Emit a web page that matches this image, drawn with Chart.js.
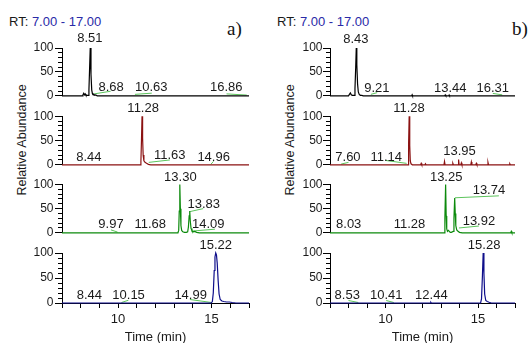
<!DOCTYPE html>
<html><head><meta charset="utf-8">
<script src="https://cdn.jsdelivr.net/npm/chart.js@4/dist/chart.umd.min.js"></script>
<style>
html,body{margin:0;padding:0;width:532px;height:343px;overflow:hidden;background:#fff;}
body{position:relative;font-family:"Liberation Sans",Arial,Helvetica,sans-serif;}
canvas{position:absolute;}
.rt{position:absolute;font-size:13px;line-height:13px;color:#1a1a1a;white-space:nowrap;}
.rt span{color:#2a2aa8;}
.pl{position:absolute;font-family:"Liberation Serif","Times New Roman",serif;font-size:19px;line-height:19px;color:#111;}
.ya{position:absolute;font-size:12.5px;line-height:13px;color:#1a1a1a;white-space:nowrap;transform:translate(-50%,-50%) rotate(-90deg);}
</style></head><body>
<div class="rt" style="left:9px;top:15px;">RT: <span>7.00 - 17.00</span></div>
<div class="rt" style="left:277px;top:15px;">RT: <span>7.00 - 17.00</span></div>
<div class="pl" style="left:227px;top:19px;">a)</div>
<div class="pl" style="left:512px;top:19px;">b)</div>
<div class="ya" style="left:22px;top:140px;">Relative Abundance</div>
<div class="ya" style="left:290px;top:140px;">Relative Abundance</div>
<script>
// ---------- DATA ----------
const xTickLabels = [10, 15];
const yTickLabels = [0, 50, 100];

// Panel a)
const a1Time  = [7, 8.08, 8.12, 8.16, 8.2, 8.24, 8.28, 8.33, 8.4, 8.44, 8.47, 8.51, 8.55, 8.59, 8.63, 8.67, 8.71, 8.75, 8.8, 8.88, 17];
const a1Abund = [0, 0, 2, 5, 2, 4, 1, 1, 1, 12, 50, 100, 45, 12, 4, 2, 3, 1, 2, 0, 0];
const a1PeakText = ['8.51', '8.68', '10.63', '16.86'];
const a1LabelX = [8.49, 9.63, 11.77, 15.78];
const a1LabelY = [112, 10, 9, 9];
const a1Leaders = [[8.72, 4, 9.6, 9.5], [10.9, 3, 11.8, 5.5], [15.8, 4, 16.88, 1.5]];

const a2Time  = [7, 11.18, 11.22, 11.25, 11.28, 11.31, 11.34, 11.38, 11.44, 11.52, 11.62, 11.75, 17];
const a2Abund = [0, 0, 8, 50, 100, 55, 20, 8, 5, 3, 1, 0, 0];
const a2PeakText = ['11.28', '8.44', '11.63', '14.96'];
const a2LabelX = [11.34, 8.44, 12.76, 15.11];
const a2LabelY = [108.5, 8, 12, 8];
const a2Leaders = [[11.64, 5, 12.77, 10], [14.96, 1, 15.1, 7]];

const a3Time  = [7, 13.2, 13.24, 13.27, 13.3, 13.33, 13.36, 13.4, 13.46, 13.55, 13.65, 13.72, 13.76, 13.8, 13.83, 13.86, 13.9, 13.95, 14.02, 14.1, 14.2, 14.35, 17];
const a3Abund = [0, 0, 5, 45, 100, 50, 15, 5, 2, 1, 1, 2, 12, 35, 45, 25, 9, 4, 2, 3, 1, 0, 0];
const a3PeakText = ['13.30', '13.83', '14.09', '9.97', '11.68'];
const a3LabelX = [13.33, 14.58, 14.82, 9.62, 11.72];
const a3LabelY = [106.5, 51, 10, 10, 10];
const a3Leaders = [[13.85, 44, 14.55, 50], [13.93, 3.5, 15.18, 7.5], [9.62, 6, 9.97, 1.5]];

const a4Time  = [7, 14.98, 15.04, 15.09, 15.14, 15.18, 15.22, 15.26, 15.3, 15.35, 15.4, 15.46, 15.55, 15.65, 15.8, 15.95, 16.1, 16.3, 17];
const a4Abund = [0, 0, 3, 20, 65, 92, 100, 96, 80, 45, 18, 7, 4, 3, 2, 2, 1, 0, 0];
const a4PeakText = ['15.22', '8.44', '10.15', '14.99'];
const a4LabelX = [15.22, 8.46, 10.56, 13.88];
const a4LabelY = [108.7, 7.5, 7.5, 7.5];
const a4Leaders = [[10.18, 1, 10.55, 5.5], [13.84, 7, 15.0, 1]];

// Panel b)
const b1Time  = [7, 8.0, 8.05, 8.1, 8.15, 8.2, 8.3, 8.35, 8.39, 8.42, 8.45, 8.49, 8.53, 8.58, 8.64, 8.72, 8.8, 11.42, 11.44, 11.46, 13.2, 13.23, 13.26, 13.42, 13.44, 13.46, 17];
const b1Abund = [0, 0, 3, 6, 2, 1, 1, 15, 60, 100, 65, 25, 8, 3, 1, 1, 0, 0, 2, 0, 0, 2, 0, 0, 1.5, 0, 0];
const b1PeakText = ['8.43', '9.21', '13.44', '16.31'];
const b1LabelX = [8.40, 9.53, 13.50, 15.80];
const b1LabelY = [110, 8, 8, 8];
const b1Leaders = [[9.21, 3, 9.55, 6.6], [15.8, 5, 16.31, 2]];

const b2Time  = [7, 11.22, 11.25, 11.28, 11.31, 11.34, 11.38, 11.45, 11.9, 11.93, 11.96, 12.13, 12.16, 12.19, 13.16, 13.19, 13.22, 13.61, 13.64, 13.67, 13.92, 13.95, 13.98, 14.07, 14.1, 14.13, 14.61, 14.64, 14.67, 14.88, 14.91, 14.94, 15.51, 15.54, 15.57, 16.69, 16.72, 16.75, 17];
const b2Abund = [0, 0, 45, 100, 40, 8, 2, 0, 0, 3, 0, 0, 2, 0, 0, 7, 0, 0, 3, 0, 0, 11, 0, 0, 4, 0, 0, 6, 0, 0, 3, 0, 0, 5, 0, 0, 2, 0, 0];
const b2PeakText = ['11.28', '7.60', '11.14', '13.95'];
const b2LabelX = [11.27, 7.97, 10.04, 14.0];
const b2LabelY = [108.5, 8, 8, 20];
const b2Leaders = [[7.6, 1.5, 8.0, 5], [10.0, 9, 11.14, 3]];

const b3Time  = [7, 13.18, 13.21, 13.25, 13.28, 13.31, 13.35, 13.4, 13.45, 13.5, 13.56, 13.66, 13.7, 13.74, 13.77, 13.8, 13.85, 13.92, 14.0, 14.15, 16.77, 16.8, 16.83, 17];
const b3Abund = [0, 0, 30, 100, 35, 8, 3, 5, 3, 1, 1, 3, 30, 72, 40, 15, 6, 3, 1, 0, 0, 3, 0, 0];
const b3PeakText = ['13.25', '13.74', '13.92', '8.03', '11.28'];
const b3LabelX = [13.28, 15.59, 15.05, 8.01, 11.30];
const b3LabelY = [106.4, 80.7, 16, 10, 10];
const b3Leaders = [[13.75, 72.5, 16.13, 76.5], [13.97, 10, 15.05, 14]];

const b4Time  = [7, 12.42, 12.45, 12.48, 15.14, 15.19, 15.24, 15.28, 15.32, 15.36, 15.42, 15.5, 15.6, 15.72, 17];
const b4Abund = [0, 0, 1.5, 0, 0, 8, 55, 100, 60, 18, 5, 3, 1.5, 0, 0];
const b4PeakText = ['15.28', '8.53', '10.41', '12.44'];
const b4LabelX = [15.33, 7.93, 10.04, 12.48];
const b4LabelY = [108.6, 8.6, 8.6, 8.6];
const b4Leaders = [[8.0, 5, 8.53, 1], [10.04, 5, 10.45, 1]];

// ---------- STYLE / LAYOUT ----------
const FONT = '"Liberation Sans", Arial, Helvetica, sans-serif';
Chart.defaults.font.family = FONT;
const TRACE_COLORS = ['#000000', '#8b1212', '#0c8a0c', '#0e0e8a'];
const LEADER_COLOR = '#5cc45c';
const TEXT_COLOR = '#1a1a1a';
const PANELS = {a: {left: 0, yWidth: 62, tickPad: 1.5}, b: {left: 266, yWidth: 64, tickPad: 0.5}};
const CANVAS_W = 262, PAD_R = 13;
const ROW_TOP = [48, 116.3, 184.5, 253];
const PLOT_H = 50;
const PAD_T = 22, PAD_B = 8, XAXIS_H = 40;

const peakLabels = {
  id: 'peakLabels',
  afterDatasetsDraw(chart, args, opts) {
    const {ctx} = chart;
    const x = chart.scales.x, y = chart.scales.y;
    ctx.save();
    ctx.font = '13px ' + FONT;
    ctx.fillStyle = TEXT_COLOR;
    ctx.textAlign = 'center';
    ctx.textBaseline = 'alphabetic';
    opts.text.forEach((t, i) => {
      ctx.fillText(t, x.getPixelForValue(opts.x[i]), y.getPixelForValue(opts.y[i]));
    });
    ctx.restore();
  }
};

function makeChart(panelKey, row, times, abund, texts, labX, labY, leaders) {
  const P = PANELS[panelKey];
  const bottomRow = row === 3;
  const canvasTop = Math.floor(ROW_TOP[row] - PAD_T);
  const padTop = ROW_TOP[row] - canvasTop;
  const h = Math.ceil(padTop + PLOT_H + (bottomRow ? XAXIS_H : PAD_B));
  const padBottom = h - padTop - PLOT_H - (bottomRow ? XAXIS_H : 0);
  const cv = document.createElement('canvas');
  cv.width = CANVAS_W; cv.height = h;
  cv.style.left = P.left + 'px'; cv.style.top = canvasTop + 'px';
  cv.style.width = CANVAS_W + 'px'; cv.style.height = h + 'px';
  document.body.appendChild(cv);

  const datasets = [{
    data: times.map((t, i) => ({x: t, y: abund[i]})),
    borderColor: TRACE_COLORS[row], borderWidth: 1.2, pointRadius: 0, tension: 0, clip: false
  }];
  leaders.forEach(s => datasets.push({
    data: [{x: s[0], y: s[1]}, {x: s[2], y: s[3]}],
    borderColor: LEADER_COLOR, borderWidth: 1, pointRadius: 0, tension: 0, clip: false
  }));

  new Chart(cv, {
    type: 'line',
    data: {datasets},
    plugins: [peakLabels],
    options: {
      responsive: false, animation: false, devicePixelRatio: 1, events: [],
      layout: {padding: {top: padTop, bottom: padBottom, left: 0, right: PAD_R}},
      plugins: {legend: {display: false}, tooltip: {enabled: false},
                peakLabels: {text: texts, x: labX, y: labY}},
      scales: {
        x: {
          type: 'linear', min: 7, max: 17, display: bottomRow, position: 'bottom',
          afterFit: s => { s.height = bottomRow ? XAXIS_H : 0; },
          ticks: {stepSize: 1, autoSkip: false, maxRotation: 0, color: TEXT_COLOR, padding: 4,
                  font: {size: 13, family: FONT},
                  callback: v => xTickLabels.includes(v) ? String(v) : ''},
          grid: {drawOnChartArea: false, tickLength: 5, color: '#000', lineWidth: 1},
          border: {display: true, color: '#000', width: 1},
          title: {display: true, text: 'Time (min)', color: TEXT_COLOR, padding: 0,
                  font: {size: 13, family: FONT, lineHeight: 0.85}}
        },
        y: {
          type: 'linear', min: 0, max: 100, position: 'left', weight: 1,
          afterFit: s => { s.width = P.yWidth; },
          ticks: {stepSize: 50, autoSkip: false, color: TEXT_COLOR, padding: P.tickPad,
                  font: {size: 12, family: FONT},
                  callback: v => yTickLabels.includes(v) ? String(v) : ''},
          grid: {drawOnChartArea: false, tickLength: 7, color: '#000', lineWidth: 1},
          border: {display: true, color: '#000', width: 1}
        },
        y2: {
          type: 'linear', min: 0, max: 100, position: 'left', weight: 0,
          afterFit: s => { s.width = 0; },
          ticks: {stepSize: 10, autoSkip: false, callback: () => ''},
          grid: {drawOnChartArea: false, tickLength: 4, color: '#000', lineWidth: 1},
          border: {display: false}
        }
      }
    }
  });
}

const CHARTS = [
  ['a', 0, a1Time, a1Abund, a1PeakText, a1LabelX, a1LabelY, a1Leaders],
  ['a', 1, a2Time, a2Abund, a2PeakText, a2LabelX, a2LabelY, a2Leaders],
  ['a', 2, a3Time, a3Abund, a3PeakText, a3LabelX, a3LabelY, a3Leaders],
  ['a', 3, a4Time, a4Abund, a4PeakText, a4LabelX, a4LabelY, a4Leaders],
  ['b', 0, b1Time, b1Abund, b1PeakText, b1LabelX, b1LabelY, b1Leaders],
  ['b', 1, b2Time, b2Abund, b2PeakText, b2LabelX, b2LabelY, b2Leaders],
  ['b', 2, b3Time, b3Abund, b3PeakText, b3LabelX, b3LabelY, b3Leaders],
  ['b', 3, b4Time, b4Abund, b4PeakText, b4LabelX, b4LabelY, b4Leaders]
];
CHARTS.forEach(c => makeChart(...c));
</script>
</body></html>
